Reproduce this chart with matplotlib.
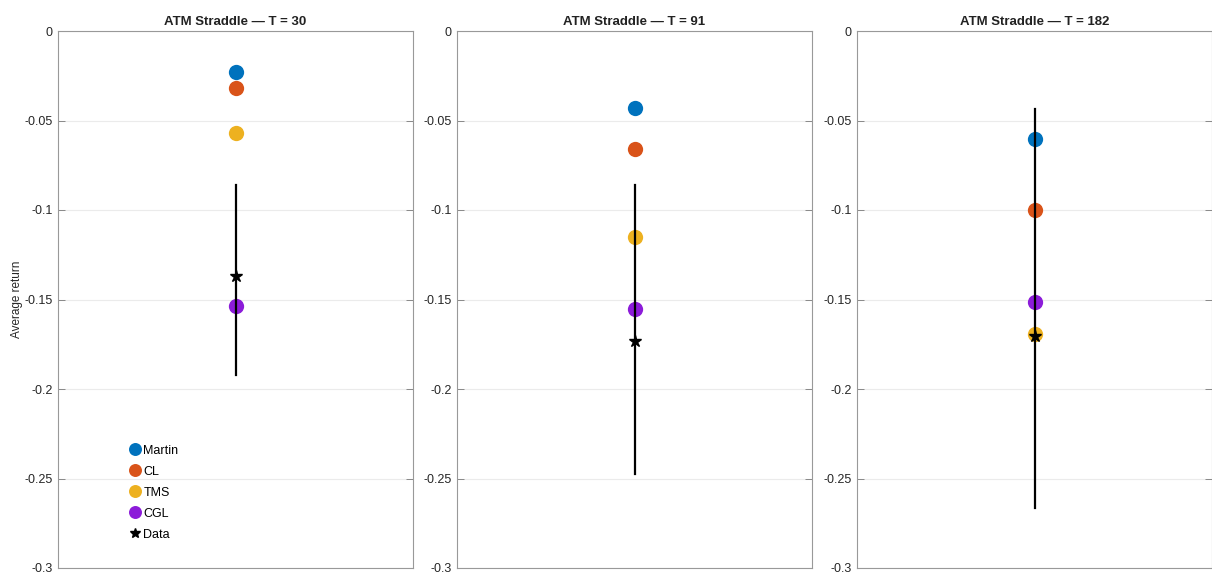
import matplotlib.pyplot as plt
import numpy as np

titles = ['ATM Straddle — T = 30', 'ATM Straddle — T = 91', 'ATM Straddle — T = 182']
models = ['Martin', 'CL', 'TMS', 'CGL']
colors = ['#0072BD', '#D95319', '#EDB120', '#8C1CD9']

# model-implied average returns per maturity (rows: T=30, 91, 182)
martin = [-0.0229, -0.0432, -0.0603]
cl = [-0.0318, -0.0661, -0.1000]
tms = [-0.0570, -0.1153, -0.1690]
cgl = [-0.1537, -0.1553, -0.1515]

# data point and its confidence band
data_mean = [-0.137, -0.173, -0.1705]
data_lo = [-0.192, -0.2475, -0.2665]
data_hi = [-0.086, -0.086, -0.0435]

yticks = [-0.3, -0.25, -0.2, -0.15, -0.1, -0.05, 0]
ytick_labels = ['-0.3', '-0.25', '-0.2', '-0.15', '-0.1', '-0.05', '0']

plt.rcParams['font.family'] = ['Liberation Sans', 'DejaVu Sans']

fig = plt.figure(figsize=(12.12, 5.74), dpi=100)
lefts = [58, 457, 857]
width = 355
series = [martin, cl, tms, cgl]

for i, left in enumerate(lefts):
    ax = fig.add_axes([left / 1212, 6 / 574, width / 1212, 537 / 574])
    for vals, c, name in zip(series, colors, models):
        ax.plot([1], [vals[i]], 'o', color=c, ms=11, mec='none', label=name, zorder=3)
    ax.plot([1, 1], [data_lo[i], data_hi[i]], '-', color='black', lw=1.6, zorder=4)
    ax.plot([1], [data_mean[i]], '*', color='black', ms=9, label='Data', zorder=5)

    ax.set_xlim(0, 2)
    ax.set_ylim(-0.3, 0)
    ax.set_xticks([])
    ax.set_yticks(yticks)
    ax.set_yticklabels(ytick_labels, fontsize=9, color='#262626')
    ax.yaxis.grid(True, color='#ebebeb', lw=0.8)
    ax.set_axisbelow(True)
    ax.tick_params(axis='y', direction='in', right=True, length=5, width=0.7, color='#888888', pad=4)
    for sp in ax.spines.values():
        sp.set_color('#999999')
        sp.set_linewidth(0.8)
    ax.set_title(titles[i], fontsize=9.5, fontweight='bold', pad=4, color='#222222')
    if i == 0:
        ax.set_ylabel('Average return', fontsize=8.5, labelpad=1, color='#262626')
        ax.legend(loc='lower left', bbox_to_anchor=(0.165, 0.03), frameon=False, fontsize=9,
                  handletextpad=0.05, handlelength=1.2, labelspacing=0.72, markerscale=0.85)

fig.savefig('out.png', dpi=100)
